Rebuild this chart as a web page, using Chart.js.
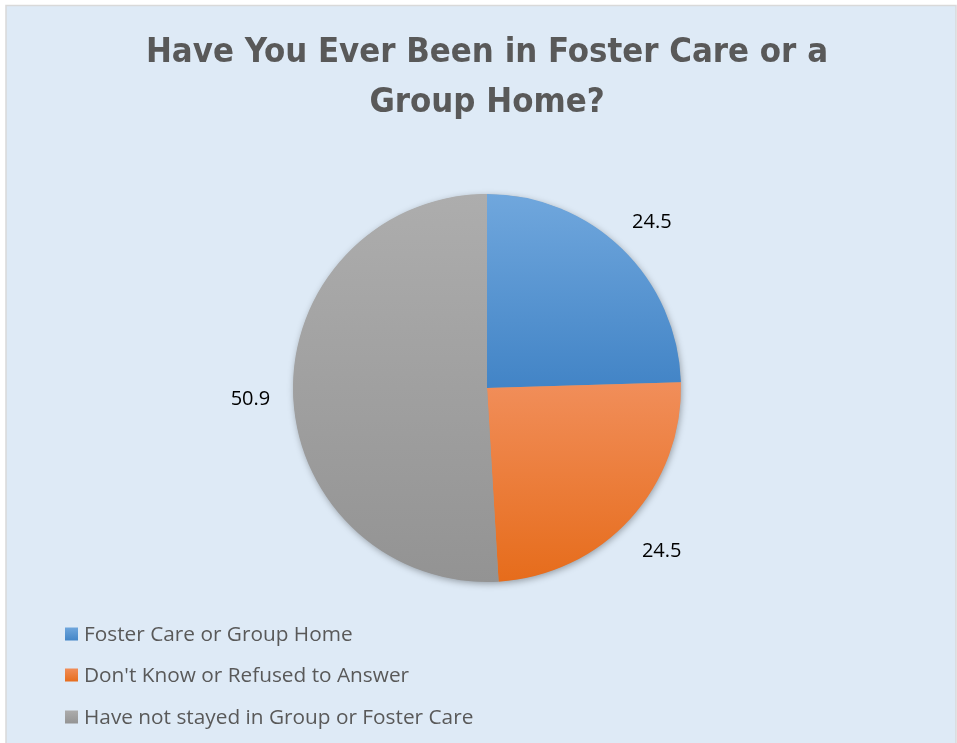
<!DOCTYPE html>
<html>
<head>
<meta charset="utf-8">
<script src="https://cdn.jsdelivr.net/npm/chart.js@4"></script>
<style>
html,body{margin:0;padding:0;background:#ffffff;}
#wrap{position:absolute;left:0;top:0;width:957px;height:743px;}
</style>
</head>
<body>
<div id="wrap"><canvas id="c" width="957" height="743"></canvas></div>
<script>
// ---- data ----
const titleLines = ['Have You Ever Been in Foster Care or a', 'Group Home?'];
const categories = ['Foster Care or Group Home', "Don't Know or Refused to Answer", 'Have not stayed in Group or Foster Care'];
const values = [24.5, 24.5, 50.9];

// ---- styles ----
const gradTop = ['#70a7dd', '#f18e5a', '#adadad'];
const gradBottom = ['#4284c6', '#e66c1b', '#939393'];
const BG = '#deeaf6';
const TEXT_GRAY = '#595959';
const TITLE_FONT = '"Liberation Sans Narrow", "DejaVu Sans Condensed", "Open Sans", sans-serif';
const BODY_FONT = '"Open Sans", sans-serif';

// fit title font size to the measured width of the reference's first line
function fitTitleSize() {
  const m = document.createElement('canvas').getContext('2d');
  m.font = 'bold 40px ' + TITLE_FONT;
  const w = m.measureText(titleLines[0]).width;
  return Math.round(40 * 682 / w * 10) / 10;
}
const titleSize = fitTitleSize();

function sliceGradient(context) {
  const chart = context.chart;
  const ca = chart.chartArea;
  const i = context.dataIndex;
  if (!ca || i === undefined) return gradTop[i || 0];
  const cx = (ca.left + ca.right) / 2, cy = (ca.top + ca.bottom) / 2;
  const r = Math.min(ca.right - ca.left, ca.bottom - ca.top) / 2;
  const total = values.reduce((a, b) => a + b, 0);
  let before = 0;
  for (let k = 0; k < i; k++) before += values[k];
  const a0 = -Math.PI / 2 + before / total * 2 * Math.PI;
  const a1 = a0 + values[i] / total * 2 * Math.PI;
  const ys = [cy, cy + r * Math.sin(a0), cy + r * Math.sin(a1)];
  const inRange = a => { let t = a; while (t < a0) t += 2 * Math.PI; return t <= a1; };
  if (inRange(-Math.PI / 2)) ys.push(cy - r);
  if (inRange(Math.PI / 2)) ys.push(cy + r);
  const y0 = Math.min(...ys), y1 = Math.max(...ys);
  const g = chart.ctx.createLinearGradient(0, y0, 0, y1 > y0 ? y1 : y0 + 1);
  g.addColorStop(0, gradTop[i]);
  g.addColorStop(1, gradBottom[i]);
  return g;
}

const backgroundPlugin = {
  id: 'bgPanel',
  beforeDraw(chart) {
    const ctx = chart.ctx;
    ctx.save();
    ctx.fillStyle = '#ffffff';
    ctx.fillRect(0, 0, chart.width, chart.height);
    ctx.fillStyle = BG;
    ctx.fillRect(6, 5, chart.width - 7, chart.height);
    ctx.strokeStyle = '#d9d9d9';
    ctx.lineWidth = 1.5;
    ctx.strokeRect(6, 5.5, chart.width - 7, chart.height + 10);
    ctx.restore();
  }
};

const shadowPlugin = {
  id: 'pieShadow',
  beforeDatasetsDraw(chart) {
    const arcs = chart.getDatasetMeta(0).data;
    if (!arcs.length) return;
    const a = arcs[0];
    const ctx = chart.ctx;
    ctx.save();
    ctx.shadowColor = 'rgba(0,0,0,0.35)';
    ctx.shadowBlur = 7;
    ctx.shadowOffsetX = 1;
    ctx.shadowOffsetY = 2;
    ctx.fillStyle = '#9a9a9a';
    ctx.beginPath();
    ctx.arc(a.x, a.y, a.outerRadius - 0.5, 0, Math.PI * 2);
    ctx.fill();
    ctx.restore();
  }
};

const labelPlugin = {
  id: 'outerLabels',
  afterDatasetsDraw(chart) {
    const ctx = chart.ctx;
    const ds = chart.data.datasets[0];
    const arcs = chart.getDatasetMeta(0).data;
    ctx.save();
    ctx.font = '20px ' + BODY_FONT;
    ctx.fillStyle = '#000000';
    ctx.textAlign = 'center';
    ctx.textBaseline = 'middle';
    arcs.forEach((a, i) => {
      const mid = (a.startAngle + a.endAngle) / 2;
      const d = a.outerRadius * 1.22;
      ctx.fillText(ds.data[i].toFixed(1), a.x + d * Math.cos(mid), a.y + d * Math.sin(mid) + 4);
    });
    ctx.restore();
  }
};

const legendPlugin = {
  id: 'stackLegend',
  afterDraw(chart) {
    const ctx = chart.ctx;
    const rows = [634, 675, 717];
    ctx.save();
    ctx.font = '20.8px ' + BODY_FONT;
    ctx.textBaseline = 'middle';
    ctx.textAlign = 'left';
    chart.data.labels.forEach((lab, i) => {
      const y = rows[i];
      const g = ctx.createLinearGradient(0, y - 7, 0, y + 7);
      g.addColorStop(0, gradTop[i]);
      g.addColorStop(1, gradBottom[i]);
      ctx.fillStyle = g;
      ctx.fillRect(65, y - 6.5, 13, 13);
      ctx.fillStyle = TEXT_GRAY;
      ctx.fillText(lab, 84, y + 1);
    });
    ctx.restore();
  }
};

new Chart(document.getElementById('c'), {
  type: 'pie',
  data: {
    labels: categories,
    datasets: [{
      data: values,
      backgroundColor: sliceGradient,
      borderWidth: 0,
      hoverOffset: 0,
      offset: 0
    }]
  },
  options: {
    responsive: false,
    animation: false,
    events: [],
    layout: { padding: { left: 17, right: 0, top: 0, bottom: 161 } },
    plugins: {
      legend: { display: false },
      tooltip: { enabled: false },
      title: {
        display: true,
        text: titleLines,
        color: TEXT_GRAY,
        font: { family: TITLE_FONT, size: titleSize, weight: 'bold', lineHeight: 50 / titleSize },
        padding: { top: 28, bottom: 66 }
      }
    }
  },
  plugins: [backgroundPlugin, shadowPlugin, labelPlugin, legendPlugin]
});
</script>
</body>
</html>
